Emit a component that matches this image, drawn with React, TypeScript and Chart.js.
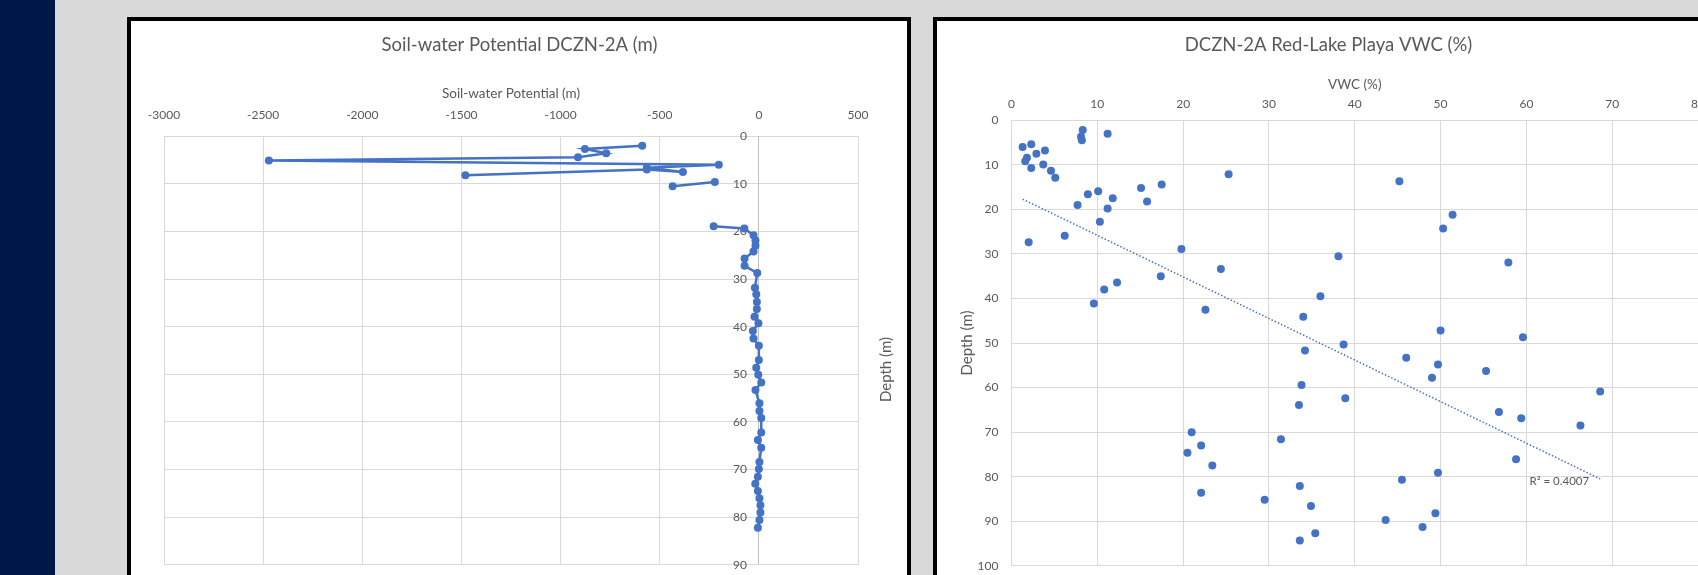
import React, { useEffect, useRef } from "react";
import { Chart, registerables } from "chart.js";

Chart.register(...registerables);

// ---------- Data: left chart (Soil-water potential vs depth), null = gap in the line
const leftDepth: (number | null)[] = [
  2.0, 2.7, 3.6, 4.4, 5.1, 6.0, 6.6, 7.5, 7.0, 8.2, null,
  9.6, 10.5, null,
  18.9, 19.4, 20.8, 21.9, 23.0, 24.2, 25.7, 27.2, 28.75, 31.8, 33.2, 34.8, 36.3,
  37.9, 39.3, 40.9, 42.5, 44.0, 47.0, 48.6, 50.1, 51.7, 53.3, 56.1, 57.7, 59.2,
  62.2, 63.8, 65.4, 68.4, 69.9, 71.5, 73.0, 74.5, 76.0, 77.5, 79.0, 80.6, 82.2,
];
const leftPotential: (number | null)[] = [
  -588, -877, -770, -912, -2471, -202, -565, -383, -565, -1480, null,
  -222, -435, null,
  -228, -73, -27, -17, -17, -27, -72, -72, -8, -20, -13, -10, -10,
  -22, -2, -30, -27, 0, 0, -13, -3, 12, -17, 3, 3, 12,
  12, -5, 12, 3, 0, -5, -18, -5, 3, 8, 8, 3, -5,
];
const leftXTicks = { min: -3000, max: 500, step: 500 };
const leftYTicks = { min: 0, max: 90, step: 10 };

// ---------- Data: right chart (VWC vs depth)
const vwc: number[] = [
  8.3, 11.2, 8.1, 8.2, 1.3, 2.3, 3.9, 2.9, 1.8, 1.6, 3.7, 2.3, 4.6, 5.1, 25.3,
  17.5, 15.1, 10.1, 8.9, 11.8, 15.8, 7.7, 11.2, 10.3, 6.2, 2.0, 19.8, 24.4, 17.4,
  12.3, 10.8, 9.6, 22.6, 34.0, 36.0,
  45.2, 51.4, 50.3, 38.1, 57.9, 50.0, 59.6,
  34.2, 33.8, 33.5, 21.0, 22.1, 20.5, 23.4, 31.4, 33.6, 22.1, 29.5, 34.9, 35.4, 33.6,
  38.7, 46.0, 49.7, 49.0, 55.3, 38.9, 68.6, 56.8, 59.4, 66.3, 58.8, 49.7, 45.5,
  49.4, 43.6, 47.9,
];
const vwcDepth: number[] = [
  2.2, 3.0, 3.7, 4.5, 6.0, 5.4, 6.8, 7.5, 8.4, 9.2, 9.9, 10.7, 11.3, 12.9, 12.1,
  14.4, 15.2, 15.9, 16.6, 17.5, 18.2, 19.0, 19.8, 22.8, 25.9, 27.4, 28.9, 33.4, 35.0,
  36.4, 38.0, 41.1, 42.5, 44.1, 39.5,
  13.7, 21.2, 24.3, 30.5, 31.9, 47.2, 48.7,
  51.7, 59.4, 63.9, 70.0, 73.0, 74.6, 77.5, 71.6, 82.1, 83.6, 85.2, 86.6, 92.7, 94.3,
  50.3, 53.3, 54.8, 57.8, 56.3, 62.4, 60.9, 65.5, 66.9, 68.5, 76.1, 79.1, 80.7,
  88.2, 89.7, 91.3,
];
const trendVwc: number[] = [1.3, 68.6];
const trendDepth: number[] = [17.7, 80.5];
const rSquaredLabel = "R\u00B2 = 0.4007";
const rightXTicks = { min: 0, max: 80, step: 10 };
const rightYTicks = { min: 0, max: 100, step: 10 };

// ---------- Text
const LEFT_TITLE = "Soil-water Potential DCZN-2A (m)";
const LEFT_X_TITLE = "Soil-water Potential (m)";
const LEFT_Y_TITLE = "Depth (m)";
const RIGHT_TITLE = "DCZN-2A Red-Lake Playa VWC (%)";
const RIGHT_X_TITLE = "VWC (%)";
const RIGHT_Y_TITLE = "Depth (m)";

// ---------- Styles
const FONT = "Lato";
const TEXT = "#595959";
const GRID = "#d9d9d9";
const AXIS = "#bfbfbf";
const BLUE = "#4472C4";

export default function App() {
  const leftRef = useRef<HTMLCanvasElement>(null);
  const rightRef = useRef<HTMLCanvasElement>(null);

  useEffect(() => {
    Chart.defaults.font.family = FONT;

    const leftDepthTitle = {
      id: "leftDepthTitle",
      afterDraw(chart: any) {
        const { ctx, chartArea } = chart;
        ctx.save();
        ctx.translate(chartArea.right + 28, (chartArea.top + chartArea.bottom) / 2 + 19);
        ctx.rotate(-Math.PI / 2);
        ctx.font = `15px ${FONT}`;
        ctx.fillStyle = TEXT;
        ctx.textAlign = "center";
        ctx.textBaseline = "middle";
        ctx.fillText(LEFT_Y_TITLE, 0, 0);
        ctx.restore();
      },
    };

    const left = new Chart(leftRef.current!, {
      type: "line",
      data: {
        datasets: [
          {
            data: leftDepth.map((d, i) => ({ x: leftPotential[i] as any, y: d as any })),
            borderColor: BLUE,
            backgroundColor: BLUE,
            borderWidth: 2.5,
            pointRadius: 4,
            pointBackgroundColor: BLUE,
            pointBorderColor: BLUE,
            pointBorderWidth: 0,
            spanGaps: false,
            tension: 0,
          },
        ],
      },
      options: {
        responsive: false,
        animation: false,
        layout: { padding: { left: 33, right: 32, top: 0, bottom: 9 } },
        plugins: {
          legend: { display: false },
          tooltip: { enabled: false },
          title: {
            display: true,
            text: LEFT_TITLE,
            color: TEXT,
            font: { family: FONT, size: 18.5, weight: "normal" },
            padding: { top: 13, bottom: 10 },
          },
        },
        scales: {
          x: {
            type: "linear",
            position: "top",
            min: leftXTicks.min,
            max: leftXTicks.max,
            ticks: {
              stepSize: leftXTicks.step,
              color: TEXT,
              font: { size: 12 },
              padding: 13.8,
              callback: (v: any) => String(v),
            },
            grid: { color: GRID, drawTicks: false },
            border: { color: GRID },
            title: {
              display: true,
              text: LEFT_X_TITLE,
              color: TEXT,
              font: { size: 13.5 },
              padding: { top: 19, bottom: 0 },
            },
            afterFit: (s: any) => {
              s.height = 70;
            },
          },
          y: {
            type: "linear",
            position: { x: 0 } as any,
            reverse: true,
            min: leftYTicks.min,
            max: leftYTicks.max,
            ticks: {
              stepSize: leftYTicks.step,
              color: TEXT,
              font: { size: 12 },
              callback: (v: any) => String(v) + "\u2002\u2002",
            },
            grid: { color: GRID, drawTicks: false },
            border: { color: AXIS },
          },
          yPad: {
            type: "linear",
            position: "right",
            display: true,
            grid: { display: false },
            ticks: { display: false },
            border: { display: false },
            afterFit: (s: any) => {
              s.width = 17;
            },
          },
        } as any,
      },
      plugins: [leftDepthTitle],
    });

    const rLabel = {
      id: "rLabel",
      afterDatasetsDraw(chart: any) {
        const { ctx, scales } = chart;
        const px = scales.x.getPixelForValue(trendVwc[1]);
        const py = scales.y.getPixelForValue(trendDepth[1]);
        ctx.save();
        ctx.font = `11.5px ${FONT}`;
        ctx.fillStyle = TEXT;
        ctx.textAlign = "right";
        ctx.textBaseline = "middle";
        ctx.fillText(rSquaredLabel, px - 11, py + 2);
        ctx.restore();
      },
    };

    const right = new Chart(rightRef.current!, {
      type: "scatter",
      data: {
        datasets: [
          {
            data: trendVwc.map((v, i) => ({ x: v, y: trendDepth[i] })),
            showLine: true,
            borderColor: BLUE,
            borderWidth: 1.5,
            borderDash: [1.5, 2],
            pointRadius: 0,
            fill: false,
          },
          {
            data: vwc.map((v, i) => ({ x: v, y: vwcDepth[i] })),
            pointRadius: 4,
            pointBackgroundColor: BLUE,
            pointBorderColor: BLUE,
            pointBorderWidth: 0,
            backgroundColor: BLUE,
            borderColor: BLUE,
          },
        ],
      },
      options: {
        responsive: false,
        animation: false,
        layout: { padding: { left: 14, right: 14, top: 0, bottom: 8.8 } },
        plugins: {
          legend: { display: false },
          tooltip: { enabled: false },
          title: {
            display: true,
            text: RIGHT_TITLE,
            color: TEXT,
            font: { family: FONT, size: 18.5, weight: "normal" },
            padding: { top: 12.5, bottom: 11.3 },
          },
        },
        scales: {
          x: {
            type: "linear",
            position: "top",
            min: rightXTicks.min,
            max: rightXTicks.max,
            ticks: { stepSize: rightXTicks.step, color: TEXT, font: { size: 12 }, padding: 9.4 },
            grid: { color: GRID, drawTicks: false },
            border: { color: GRID },
            title: {
              display: true,
              text: RIGHT_X_TITLE,
              color: TEXT,
              font: { size: 13.5 },
              padding: { top: 9.5, bottom: 0 },
            },
            afterFit: (s: any) => {
              s.height = 53.3;
            },
          },
          y: {
            type: "linear",
            position: "left",
            reverse: true,
            min: rightYTicks.min,
            max: rightYTicks.max,
            ticks: { stepSize: rightYTicks.step, color: TEXT, font: { size: 12 }, padding: 13 },
            grid: { color: GRID, drawTicks: false },
            border: { color: GRID },
            title: {
              display: true,
              text: RIGHT_Y_TITLE,
              color: TEXT,
              font: { size: 15 },
              padding: { top: 7, bottom: 0 },
            },
            afterFit: (s: any) => {
              s.width = 60.5;
            },
          },
          xPad: {
            type: "linear",
            axis: "y",
            position: "right",
            display: true,
            grid: { display: false },
            ticks: { display: false },
            border: { display: false },
            afterFit: (s: any) => {
              s.width = 8;
            },
          },
        } as any,
      },
      plugins: [rLabel],
    });

    return () => {
      left.destroy();
      right.destroy();
    };
  }, []);

  return (
    <div
      style={{
        position: "fixed",
        left: 0,
        top: 0,
        width: 1698,
        height: 575,
        overflow: "hidden",
        background: "#d9d9d9",
      }}
    >
      <div style={{ position: "absolute", left: 0, top: 0, width: 55, height: 575, background: "#001848" }} />
      <div
        style={{
          position: "absolute",
          left: 127,
          top: 17,
          width: 784,
          height: 620,
          boxSizing: "border-box",
          border: "4px solid #000",
          background: "#fff",
        }}
      >
        <canvas ref={leftRef} width={776} height={554} style={{ display: "block" }} />
      </div>
      <div
        style={{
          position: "absolute",
          left: 933,
          top: 17,
          width: 791,
          height: 620,
          boxSizing: "border-box",
          border: "4px solid #000",
          background: "#fff",
        }}
      >
        <canvas ref={rightRef} width={783} height={565} style={{ display: "block" }} />
      </div>
    </div>
  );
}
